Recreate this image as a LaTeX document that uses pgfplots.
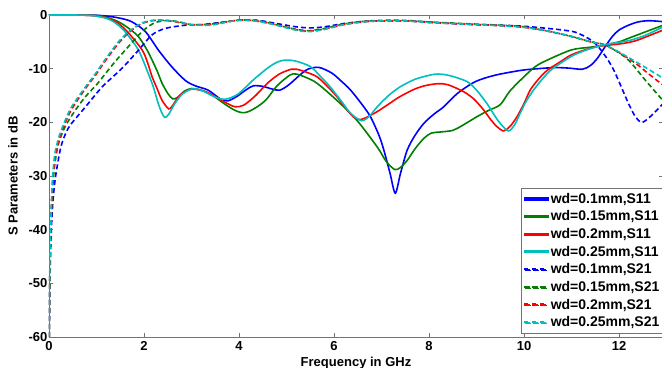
\documentclass[border=0pt]{standalone}
\usepackage{pgfplots}
\pgfplotsset{compat=1.18}
\usepackage{fontspec}
\setmainfont{Liberation Sans}
\usetikzlibrary{calc}
\definecolor{mblue}{rgb}{0,0,1}
\definecolor{mgreen}{rgb}{0,0.5,0}
\definecolor{mred}{rgb}{1,0,0}
\definecolor{mcyan}{rgb}{0,0.75,0.75}
\definecolor{axgray}{rgb}{0.45,0.45,0.45}
\newcommand{\lfont}{\bfseries\fontsize{13}{15}\selectfont}
\newcommand{\legfont}{\bfseries\fontsize{14}{16}\selectfont}
\pgfplotsset{
  dashleg/.style={legend image code/.code={\fill[#1] (0pt,-0.8pt) rectangle (5pt,0.8pt); \fill[#1] (8pt,-0.8pt) rectangle (13pt,0.8pt); \fill[#1] (16pt,-0.8pt) rectangle (21pt,0.8pt);}},
}
\begin{document}
\begin{tikzpicture}
\begin{axis}[
  scale only axis, width=614pt, height=322pt,
  xmin=0, xmax=12.926, ymin=-60, ymax=0,
  xtick={0,2,4,6,8,10,12}, ytick={-60,-50,-40,-30,-20,-10,0},
  tick align=inside, major tick length=4pt,
  axis line style={axgray, line width=0.8pt},
  tick style={axgray, line width=0.8pt},
  /pgf/number format/assume math mode=true,
  tick label style={font=\lfont},
  xticklabel style={anchor=base, yshift=-14pt},
  yticklabel style={anchor=east, inner sep=1.5pt},
  xlabel={Frequency in GHz}, ylabel={S Parameters in dB},
  label style={font=\lfont},
  xlabel style={at={(axis description cs:0.5,0)}, anchor=base, yshift=-29.5pt},
  ylabel style={at={(axis description cs:-0.0586,0.5)}, anchor=center},
  legend style={at={(rel axis cs:0.7687,0.0124)}, anchor=south west,
    draw=axgray, font=\legfont, inner xsep=3pt, inner ysep=2.5pt,
    row sep=2.0pt, /tikz/every even column/.append style={column sep=2pt}},
  legend cell align=left,
  legend image code/.code={\fill[#1] (0pt,-0.8pt) rectangle (23pt,0.8pt);},
  every axis plot/.append style={line width=1.6pt},
]
\coordinate (BL) at (rel axis cs:0,0);
\coordinate (TR) at (rel axis cs:1,1);
% S11
\addplot[mblue, smooth, tension=0.5] coordinates {(0,0) (0.5,0) (1.0,-0.05) (1.3,-0.3) (1.5,-0.6) (1.74,-1.25) (2.03,-3.1) (2.3,-6.5) (2.58,-9.6) (2.87,-12.2) (3.08,-13.2) (3.35,-14.0) (3.6,-15.6) (3.76,-16.0) (3.95,-15.2) (4.14,-14.0) (4.3,-13.2) (4.5,-13.3) (4.7,-13.8) (4.86,-14.0) (5.05,-13.0) (5.28,-11.2) (5.45,-10.1) (5.68,-9.76) (5.95,-10.8) (6.15,-12.3) (6.35,-14.0) (6.6,-16.8) (6.77,-19) (6.95,-22.5) (7.05,-25.2) (7.18,-29.5) (7.29,-33.2) (7.4,-29.5) (7.54,-25.2) (7.7,-22.5) (7.89,-20.2) (8.1,-18.5) (8.31,-17.1) (8.6,-14.6) (8.98,-12.4) (9.4,-11.2) (9.95,-10.3) (10.3,-10.0) (10.65,-9.8) (10.95,-9.9) (11.23,-10.1) (11.4,-9.4) (11.55,-8.0) (11.7,-6.0) (11.86,-4.0) (12.0,-2.8) (12.2,-1.9) (12.4,-1.3) (12.63,-1.06) (12.93,-1.25)};
\addlegendentry{wd=0.1mm,S11}
\addplot[mgreen, smooth, tension=0.5] coordinates {(0,0) (0.5,0) (1.0,-0.1) (1.2,-0.4) (1.46,-1.25) (1.68,-2.5) (1.88,-4.0) (2.05,-6.3) (2.17,-8.4) (2.28,-10.5) (2.38,-12.7) (2.5,-14.6) (2.6,-15.6) (2.7,-15.4) (2.85,-14.2) (3.0,-13.7) (3.2,-14.0) (3.43,-14.9) (3.7,-16.6) (3.9,-17.7) (4.06,-18.2) (4.2,-18.0) (4.4,-17.0) (4.58,-15.7) (4.8,-13.2) (5.07,-11.2) (5.2,-11.0) (5.4,-11.6) (5.64,-12.7) (6.06,-15.9) (6.48,-19.6) (6.91,-24.6) (7.1,-27.3) (7.28,-28.8) (7.4,-28.4) (7.54,-27.1) (7.7,-25) (7.89,-23.0) (8.05,-22.0) (8.24,-21.8) (8.5,-21.5) (8.7,-20.6) (9.0,-19.0) (9.25,-17.8) (9.5,-16.7) (9.7,-14.2) (10.0,-11.5) (10.24,-9.6) (10.49,-8.4) (11.0,-6.5) (11.4,-6.0) (11.68,-5.6) (12.0,-5.0) (12.24,-4.2) (12.6,-3.0) (12.93,-1.9)};
\addlegendentry{wd=0.15mm,S11}
\addplot[mred, smooth, tension=0.5] coordinates {(0,0) (0.5,0) (0.9,-0.1) (1.2,-0.5) (1.45,-1.5) (1.68,-3.4) (1.96,-6.5) (2.08,-9) (2.17,-11.5) (2.28,-13.8) (2.38,-15.9) (2.52,-17.5) (2.6,-16.9) (2.73,-15.2) (2.9,-14.1) (3.05,-13.8) (3.3,-14.3) (3.55,-15.5) (3.78,-16.6) (3.92,-17.1) (4.1,-16.8) (4.35,-15) (4.6,-12.7) (4.85,-11) (5.1,-10.1) (5.21,-10.1) (5.4,-10.6) (5.64,-11.5) (5.85,-13.2) (6.06,-15.2) (6.25,-17.4) (6.41,-19.0) (6.55,-19.5) (6.7,-19.0) (6.91,-18.0) (7.15,-16.6) (7.39,-15.2) (7.7,-13.8) (7.95,-13.1) (8.2,-12.8) (8.4,-13.0) (8.73,-14.3) (8.95,-15.7) (9.15,-17.7) (9.3,-19.5) (9.43,-20.8) (9.57,-21.6) (9.7,-20.8) (9.85,-19.0) (10.0,-16.5) (10.13,-14.0) (10.3,-12.0) (10.49,-10.3) (10.75,-8.8) (10.98,-7.5) (11.25,-6.6) (11.53,-5.9) (11.8,-5.6) (12.09,-5.3) (12.35,-4.8) (12.59,-4.0) (12.93,-2.8)};
\addlegendentry{wd=0.2mm,S11}
\addplot[mcyan, smooth, tension=0.5] coordinates {(0,0) (0.5,0) (0.9,-0.1) (1.2,-0.6) (1.4,-1.5) (1.6,-3.1) (1.88,-6.5) (2.09,-10.9) (2.2,-13.5) (2.3,-16.5) (2.38,-18.3) (2.44,-19.1) (2.52,-18.5) (2.65,-16.5) (2.8,-14.8) (3.0,-13.8) (3.2,-14.0) (3.45,-15.1) (3.65,-15.7) (3.8,-15.5) (4.0,-14.6) (4.3,-12.1) (4.6,-9.9) (4.8,-8.8) (4.97,-8.4) (5.2,-8.6) (5.5,-9.6) (5.7,-11.3) (5.92,-13.4) (6.15,-16.0) (6.35,-18.3) (6.58,-19.7) (6.75,-18.8) (6.91,-17.1) (7.15,-15.0) (7.39,-13.4) (7.7,-12.0) (8.02,-11.2) (8.2,-11.0) (8.44,-11.3) (8.8,-12.4) (9.0,-14.0) (9.22,-16.5) (9.4,-19.0) (9.5,-20.2) (9.67,-21.6) (9.8,-20.5) (9.92,-18.3) (10.05,-16.0) (10.2,-14.0) (10.38,-12.0) (10.56,-10.3) (10.8,-8.8) (11.04,-7.5) (11.35,-6.4) (11.67,-5.6) (12.0,-5.1) (12.24,-4.7) (12.55,-3.8) (12.93,-2.2)};
\addlegendentry{wd=0.25mm,S11}
% S21
\addplot[mblue, smooth, tension=0.5, dash pattern=on 5pt off 3pt, dashleg] coordinates {(0.005,-60) (0.02,-50) (0.04,-42) (0.08,-35) (0.14,-30) (0.24,-25) (0.33,-22.5) (0.45,-20.5) (0.77,-17.1) (1.12,-13.4) (1.54,-9.9) (1.89,-6.5) (2.17,-3.7) (2.45,-2.5) (2.87,-1.9) (3.2,-1.8) (3.5,-1.5) (4.0,-1.0) (4.4,-1.0) (4.8,-1.6) (5.2,-2.2) (5.5,-2.4) (5.8,-2.2) (6.2,-1.6) (6.6,-1.2) (7.0,-1.1) (7.5,-1.1) (8.0,-1.3) (8.5,-1.6) (9.0,-1.8) (9.5,-1.9) (10.0,-2.1) (10.5,-2.5) (10.9,-2.9) (11.14,-3.4) (11.5,-5.3) (11.85,-9.6) (12.2,-16.5) (12.35,-19) (12.48,-20) (12.65,-19) (12.93,-16.5)};
\addlegendentry{wd=0.1mm,S21}
\addplot[mgreen, smooth, tension=0.5, dash pattern=on 5pt off 3pt, dashleg] coordinates {(0.005,-60) (0.02,-47) (0.04,-40) (0.07,-33) (0.12,-28) (0.2,-24) (0.34,-20.8) (0.55,-17.8) (0.77,-15.2) (1.0,-13) (1.19,-10.9) (1.4,-8.6) (1.61,-6.5) (1.8,-4.6) (1.96,-3.1) (2.1,-2.1) (2.24,-1.4) (2.45,-1.05) (2.7,-1.2) (3.0,-1.8) (3.4,-1.7) (3.7,-1.3) (4.0,-0.95) (4.3,-1.0) (4.6,-1.4) (5.0,-2.3) (5.3,-2.8) (5.5,-2.9) (5.8,-2.5) (6.2,-1.7) (6.6,-1.2) (7.0,-1.0) (7.5,-1.0) (8.0,-1.3) (8.5,-1.5) (9.0,-1.7) (9.5,-1.9) (10.0,-2.2) (10.5,-3.0) (11.0,-4.0) (11.4,-5.0) (11.65,-5.4) (11.9,-6.5) (12.2,-8.4) (12.55,-12.1) (12.93,-16.0)};
\addlegendentry{wd=0.15mm,S21}
\addplot[mred, smooth, tension=0.5, dash pattern=on 5pt off 3pt, dashleg] coordinates {(0.005,-60) (0.02,-46) (0.04,-39) (0.07,-32) (0.12,-27) (0.2,-23.5) (0.3,-21) (0.45,-18) (0.62,-15.6) (0.8,-13.3) (0.98,-11.2) (1.15,-9.0) (1.33,-6.8) (1.5,-4.9) (1.68,-3.3) (1.85,-2.1) (2.03,-1.35) (2.24,-1.0) (2.5,-1.05) (2.8,-1.5) (3.0,-1.8) (3.4,-1.8) (3.7,-1.35) (4.0,-0.95) (4.3,-1.05) (4.6,-1.5) (5.0,-2.3) (5.3,-2.9) (5.5,-3.0) (5.8,-2.6) (6.2,-1.8) (6.6,-1.3) (7.0,-1.1) (7.5,-1.1) (8.0,-1.4) (8.5,-1.6) (9.0,-1.8) (9.5,-2.0) (10.0,-2.3) (10.5,-3.0) (11.0,-4.0) (11.4,-5.0) (11.7,-5.6) (12.0,-7.0) (12.35,-9.0) (12.6,-10.8) (12.93,-13.1)};
\addlegendentry{wd=0.2mm,S21}
\addplot[mcyan, smooth, tension=0.5, dash pattern=on 5pt off 3pt, dashleg] coordinates {(0.005,-60) (0.02,-45) (0.04,-38) (0.07,-31) (0.12,-26) (0.2,-23) (0.3,-20.5) (0.45,-17.5) (0.62,-15.2) (0.8,-13) (0.98,-10.9) (1.15,-8.7) (1.33,-6.5) (1.5,-4.6) (1.68,-3.1) (1.85,-2.0) (2.03,-1.25) (2.24,-0.95) (2.5,-1.0) (2.8,-1.4) (3.0,-1.8) (3.4,-1.9) (3.7,-1.4) (4.0,-1.0) (4.3,-1.1) (4.6,-1.5) (5.0,-2.4) (5.3,-3.0) (5.5,-3.1) (5.8,-2.7) (6.2,-1.8) (6.6,-1.3) (7.0,-1.1) (7.5,-1.1) (8.0,-1.4) (8.5,-1.6) (9.0,-1.8) (9.5,-2.0) (10.0,-2.3) (10.5,-3.0) (11.0,-4.0) (11.4,-5.0) (11.7,-5.6) (12.0,-6.9) (12.35,-8.7) (12.6,-10.0) (12.93,-11.8)};
\addlegendentry{wd=0.25mm,S21}
\end{axis}
\pgfresetboundingbox
\path ($(BL)+(-49pt,-31pt)$) rectangle ($(TR)+(-1pt,15pt)$);
\end{tikzpicture}
\end{document}
